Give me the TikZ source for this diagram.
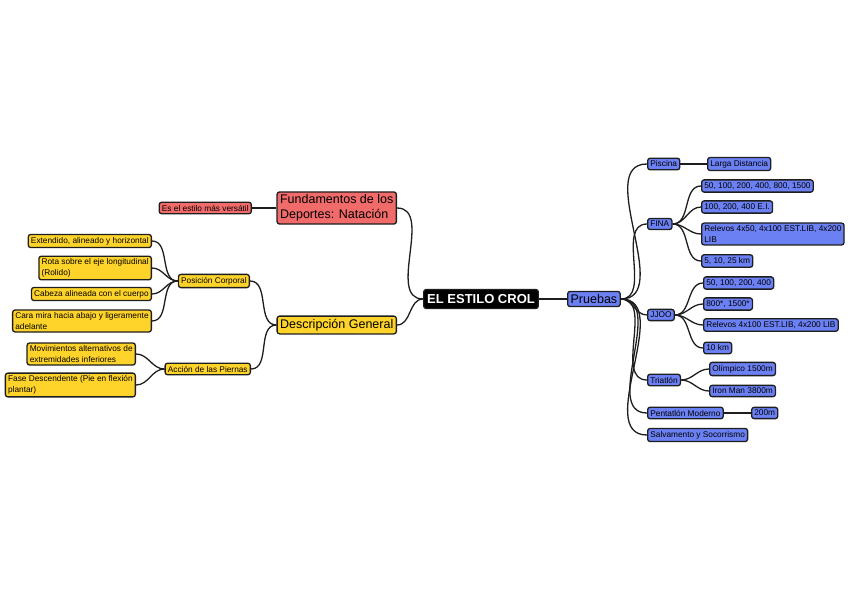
\documentclass[tikz,border=0pt]{standalone}
\usepackage{fontspec}
\setmainfont{Liberation Sans}
\usepackage{xcolor}
\usepackage{tikz}

\definecolor{rojo}{HTML}{F26B6B}
\definecolor{amarillo}{HTML}{FFD42A}
\definecolor{azul}{HTML}{6B80F3}
\definecolor{borde}{HTML}{1E1E1E}

\tikzset{
  caja/.style={draw=borde,line width=1.3pt,rounded corners=2.5pt,inner sep=2.7pt,
    font=\fontsize{8.3}{10.5}\selectfont,align=left},
  grande/.style={caja,font=\fontsize{12.5}{14.5}\selectfont,inner sep=3pt},
  roja/.style={fill=rojo},
  amar/.style={fill=amarillo},
  azu/.style={fill=azul},
  rama/.style={line width=1.3pt,borde},
}

\begin{document}
\begin{tikzpicture}[x=1pt,y=-1pt]
            \useasboundingbox (0,0) rectangle (848,599);
            %绘制中心节点
            \node[caja,fill=black,text=white,font=\bfseries\fontsize{13}{15}\selectfont,inner sep=3.5pt,minimum height=19pt] (CROL) at (481,299) {EL ESTILO CROL};
            \node[grande,azu,anchor=west] (PRU) at (567,299) {Pruebas};
            \node[grande,roja,anchor=east] (FUN) at (397,208) {Fundamentos de los\\Deportes: Natación};
            \node[grande,amar,anchor=east] (DES) at (397,325) {Descripción General};
            %绘制左侧节点
            \node[caja,roja,anchor=east] (VER) at (252,208) {Es el estilo más versátil};
            \node[caja,amar,anchor=east] (POS) at (250,281) {Posición Corporal};
            \node[caja,amar,anchor=east] (ACC) at (251,369) {Acción de las Piernas};
            \node[caja,amar,anchor=east] (EXT) at (152,241) {Extendido, alineado y horizontal};
            \node[caja,amar,anchor=east] (ROT) at (152,268) {Rota sobre el eje longitudinal\\(Rolido)};
            \node[caja,amar,anchor=east] (CAB) at (152,294) {Cabeza alineada con el cuerpo};
            \node[caja,amar,anchor=east] (CAR) at (152,321) {Cara mira hacia abajo y ligeramente\\adelante};
            \node[caja,amar,anchor=east] (MOV) at (136,354) {Movimientos alternativos de\\extremidades inferiores};
            \node[caja,amar,anchor=east] (FAS) at (136,385) {Fase Descendente (Pie en flexión\\plantar)};
            %绘制右侧节点
            \node[caja,azu,anchor=west] (PIS) at (647,164) {Piscina};
            \node[caja,azu,anchor=west] (LAR) at (707,164) {Larga Distancia};
            \node[caja,azu,anchor=west] (FINA) at (647,224) {FINA};
            \node[caja,azu,anchor=west] (F1) at (701,186) {50, 100, 200, 400, 800, 1500};
            \node[caja,azu,anchor=west] (F2) at (701,207) {100, 200, 400 E.I.};
            \node[caja,azu,anchor=west] (F3) at (701,234) {Relevos 4x50, 4x100 EST.LIB, 4x200\\LIB};
            \node[caja,azu,anchor=west] (F4) at (701,261) {5, 10, 25 km};
            \node[caja,azu,anchor=west] (JJOO) at (647,315) {JJOO};
            \node[caja,azu,anchor=west] (J1) at (703,283) {50, 100, 200, 400};
            \node[caja,azu,anchor=west] (J2) at (703,304) {800*, 1500*};
            \node[caja,azu,anchor=west] (J3) at (703,325) {Relevos 4x100 EST.LIB, 4x200 LIB};
            \node[caja,azu,anchor=west] (J4) at (703,348) {10 km};
            \node[caja,azu,anchor=west] (TRI) at (647,380) {Triatlón};
            \node[caja,azu,anchor=west] (T1) at (709,369) {Olímpico 1500m};
            \node[caja,azu,anchor=west] (T2) at (709,391) {Iron Man 3800m};
            \node[caja,azu,anchor=west] (PEN) at (647,413) {Pentatlón Moderno};
            \node[caja,azu,anchor=west] (P1) at (751,413) {200m};
            \node[caja,azu,anchor=west] (SAL) at (647,435) {Salvamento y Socorrismo};
            %绘制连线
            \draw[rama] (CROL) -- (PRU);
            \draw[rama] (FUN) -- (VER);
            \draw[rama] (PIS) -- (LAR);
            \draw[rama] (PEN) -- (P1);
            \foreach \a/\b in {CROL/FUN,CROL/DES,DES/POS,DES/ACC,POS/EXT,POS/ROT,POS/CAB,POS/CAR,ACC/MOV,ACC/FAS}
              {\draw[rama] (\a.west) to[out=180,in=0] (\b.east);}
            \foreach \a/\b in {PRU/PIS,PRU/FINA,PRU/JJOO,PRU/TRI,PRU/PEN,PRU/SAL,FINA/F1,FINA/F2,FINA/F3,FINA/F4,JJOO/J1,JJOO/J2,JJOO/J3,JJOO/J4,TRI/T1,TRI/T2}
              {\draw[rama] (\a.east) to[out=0,in=180] (\b.west);}
        \end{tikzpicture}
\end{document}
